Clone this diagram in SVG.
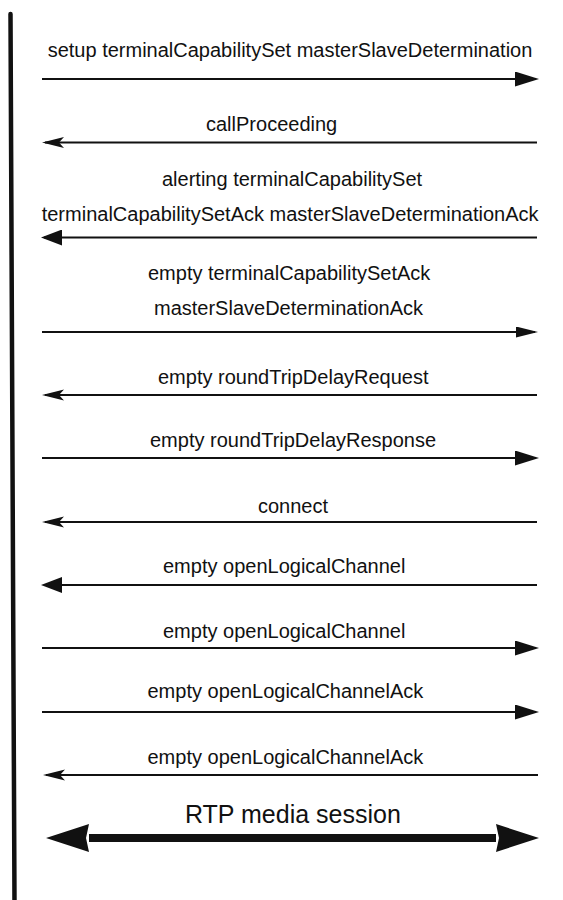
<svg xmlns="http://www.w3.org/2000/svg" width="563" height="900" viewBox="0 0 563 900">
<style>
  text { font-family: "Liberation Sans", Arial, sans-serif; font-size: 20px; fill: #111; }
  .big { font-size: 25px; }
  .msg { stroke: #111; stroke-width: 2; fill: none; }
  .media { stroke: #111; stroke-width: 8; fill: none; }
  .life { stroke: #111; stroke-width: 4.5; stroke-linecap: round; fill: none; }
</style>
<defs>
  <marker id="solid" markerUnits="userSpaceOnUse" markerWidth="24" markerHeight="15" refX="21" refY="7.5" orient="auto" viewBox="0 0 24 15">
    <path d="M0,0 L24,7.5 L0,15 Z" fill="#111"/>
  </marker>
  <marker id="solidL" markerUnits="userSpaceOnUse" markerWidth="21" markerHeight="16" refX="18" refY="8" orient="auto" viewBox="0 0 21 16">
    <path d="M0,0 L21,8 L0,16 Z" fill="#111"/>
  </marker>
  <marker id="small" markerUnits="userSpaceOnUse" markerWidth="22" markerHeight="11" refX="19" refY="5.5" orient="auto" viewBox="0 0 22 11">
    <path d="M0,0 L22,5.5 L0,11 Z" fill="#111"/>
  </marker>
  <marker id="barb" markerUnits="userSpaceOnUse" markerWidth="22" markerHeight="12" refX="19" refY="6" orient="auto" viewBox="0 0 22 12">
    <path d="M0,0.5 L22,6 L0,11.5 L5,6 Z" fill="#111"/>
  </marker>
  <marker id="big" markerUnits="userSpaceOnUse" markerWidth="43" markerHeight="28" refX="0" refY="14" orient="auto-start-reverse" viewBox="0 0 43 28">
    <path d="M0,0 L43,14 L0,28 L3,14 Z" fill="#111"/>
  </marker>
</defs>

<g id="lifeline">
  <line class="life" x1="10.5" y1="14" x2="14.5" y2="902"/>
</g>

<g id="connectors">
  <line class="msg" x1="42" y1="79" x2="536" y2="79" marker-end="url(#solid)"/>
  <line class="msg" x1="537" y1="142.5" x2="45" y2="142.5" marker-end="url(#barb)"/>
  <line class="msg" x1="537" y1="237.5" x2="44" y2="237.5" marker-end="url(#solidL)"/>
  <line class="msg" x1="42" y1="332" x2="535" y2="332" marker-end="url(#small)"/>
  <line class="msg" x1="537" y1="395" x2="45" y2="395" marker-end="url(#barb)"/>
  <line class="msg" x1="42" y1="458" x2="536" y2="458" marker-end="url(#solid)"/>
  <line class="msg" x1="537" y1="522" x2="45" y2="522" marker-end="url(#barb)"/>
  <line class="msg" x1="537" y1="585" x2="44" y2="585" marker-end="url(#solidL)"/>
  <line class="msg" x1="42" y1="648" x2="536" y2="648" marker-end="url(#solid)"/>
  <line class="msg" x1="42" y1="712" x2="536" y2="712" marker-end="url(#solid)"/>
  <line class="msg" x1="538" y1="775" x2="46" y2="775" marker-end="url(#barb)"/>
  <line class="media" x1="89" y1="838" x2="496" y2="838" marker-start="url(#big)" marker-end="url(#big)"/>
</g>

<g id="labels">
  <g id="m1"><text x="47.7" y="57">setup terminalCapabilitySet masterSlaveDetermination</text></g>
  <g id="m2"><text x="206" y="131">callProceeding</text></g>
  <g id="m3">
    <text x="162" y="186">alerting terminalCapabilitySet</text>
    <text x="41.7" y="221">terminalCapabilitySetAck masterSlaveDeterminationAck</text>
  </g>
  <g id="m4">
    <text x="148" y="280">empty terminalCapabilitySetAck</text>
    <text x="154" y="315">masterSlaveDeterminationAck</text>
  </g>
  <g id="m5"><text x="158" y="384">empty roundTripDelayRequest</text></g>
  <g id="m6"><text x="150" y="447">empty roundTripDelayResponse</text></g>
  <g id="m7"><text x="258" y="513">connect</text></g>
  <g id="m8"><text x="163" y="573">empty openLogicalChannel</text></g>
  <g id="m9"><text x="163" y="638">empty openLogicalChannel</text></g>
  <g id="m10"><text x="147.5" y="698">empty openLogicalChannelAck</text></g>
  <g id="m11"><text x="147.5" y="764">empty openLogicalChannelAck</text></g>
  <g id="m12"><text class="big" x="185" y="823">RTP media session</text></g>
</g>
</svg>
